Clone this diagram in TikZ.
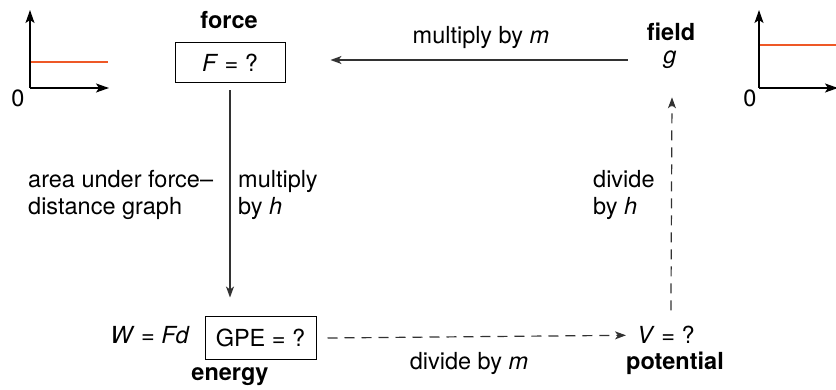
\documentclass[tikz,border=0pt]{standalone}
\usepackage{fontspec}
\setmainfont{TeX Gyre Heros}
\usetikzlibrary{arrows.meta,calc}
\definecolor{curvecol}{RGB}{238,88,38}
\definecolor{linecol}{RGB}{50,50,50}
\begin{document}
\begin{tikzpicture}[x=1pt,y=-1pt,
  font=\fontsize{23.5}{28}\selectfont,
  txt/.style={inner sep=0pt},
  valbox/.style={draw, line width=1pt, inner sep=0pt},
  axis/.style={line width=1.5pt, -{Stealth[length=13pt,width=9pt,inset=3pt]}},
  flat/.style={draw=curvecol, line width=2.2pt},
  conn/.style={draw=linecol, line width=1.2pt, -{Stealth[length=11pt,width=8pt,inset=3pt]}},
  dashconn/.style={conn, dash pattern=on 10pt off 7pt}]
\useasboundingbox (0,0) rectangle (836,390);

% left graph
\coordinate (lo) at (30,88);
\coordinate (lyt) at (30,10);
\coordinate (lxt) at (109,88);
\coordinate (lca) at (30,62);
\coordinate (lcb) at (108,62);
\draw[flat] (lca) -- (lcb);
\draw[axis] (lo) -- (lyt);
\draw[axis] (lo) -- (lxt);
\node[txt] (lzero) at (18,98) {0};

% right graph
\coordinate (ro) at (759,88);
\coordinate (ryt) at (759,10);
\coordinate (rxt) at (838,88);
\coordinate (rca) at (759,45);
\coordinate (rcb) at (838,45);
\draw[flat] (rca) -- (rcb);
\draw[axis] (ro) -- (ryt);
\draw[axis] (ro) -- (rxt);
\node[txt] (rzero) at (750,98) {0};

% nodes
\node[txt, anchor=base] (force) at (229,29) {\textbf{force}};
\node[valbox, minimum width=110pt, minimum height=40pt] (F) at (230,63) {\textit{F} = ?};
\node[txt, anchor=base] (field) at (671,41) {\textbf{field}};
\node[txt, anchor=base] (g) at (670,64) {\textit{g}};
\node[valbox, minimum width=111pt, minimum height=42pt] (GPE) at (260.5,338) {GPE = ?};
\node[txt, anchor=base east] (W) at (190,344) {\textit{W} = \textit{Fd}};
\node[txt, anchor=base] (energy) at (230,380) {\textbf{energy}};
\node[txt, anchor=base west] (V) at (637,344) {\textit{V} = ?};
\node[txt, anchor=base] (pot) at (675,370) {\textbf{potential}};

% labels
\node[txt, anchor=base] (lmm) at (481,44) {multiply by \textit{m}};
\node[txt, anchor=base] (ldm) at (469,369) {divide by \textit{m}};
\node[txt, anchor=base west] (la1) at (28,188) {area under force–};
\node[txt, anchor=base west] (la2) at (28,215) {distance graph};
\node[txt, anchor=base west] (lh1) at (238,188) {multiply};
\node[txt, anchor=base west] (lh2) at (238,215) {by \textit{h}};
\node[txt, anchor=base west] (ld1) at (593,188) {divide};
\node[txt, anchor=base west] (ld2) at (593,215) {by \textit{h}};

% connectors
\draw[conn] ($(F.east)+(342,-3)$) -- ($(F.east)+(45,-3)$);
\draw[conn] ($(F.south)+(0,7)$) -- ($(F.south)+(0,214)$);
\draw[dashconn] ($(GPE.east)+(11,0)$) -- ($(V.west)+(-11,0)$);
\draw[dashconn] ($(V.north)+(5,-16)$) -- ($(g.south)+(2,28)$);
\end{tikzpicture}
\end{document}
